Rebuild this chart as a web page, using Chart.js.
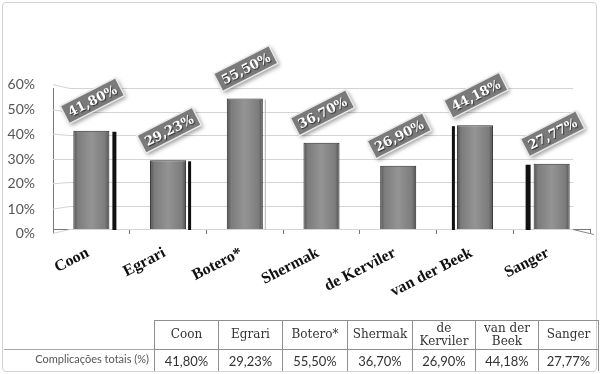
<!DOCTYPE html>
<html><head><meta charset="utf-8">
<script src="https://cdn.jsdelivr.net/npm/chart.js@4"></script>
<style>
html,body{margin:0;padding:0;background:#fff;}
#wrap{position:relative;width:600px;height:374px;overflow:hidden;background:#fff;}
#frame{position:absolute;left:2px;top:2px;width:595px;height:370px;border:1px solid #d2d2d2;border-radius:4px;box-sizing:border-box;}
#c{position:absolute;left:0;top:0;}
#tbl{position:absolute;left:154px;top:320px;border-collapse:collapse;table-layout:fixed;}
#tbl td{border:1px solid #8f8f8f;text-align:center;padding:0 1px;color:#333;overflow:hidden;}
#tbl tr.h td{height:28px;font:12px/1.1 "DejaVu Serif";}
#tbl tr.v td{height:21px;font:13px Lato;border-bottom:none;}
#rowline{position:absolute;left:4px;top:349px;width:150px;border-top:1px solid #a8a8a8;}
#rowhead{position:absolute;left:0;top:352px;width:149px;text-align:right;font:11px Lato;color:#555;}
</style></head>
<body><div id="wrap">
<div id="frame"></div>
<canvas id="c" width="600" height="374"></canvas>
<div id="rowline"></div>
<div id="rowhead"></div>
<table id="tbl"><colgroup></colgroup><tbody><tr class="h"></tr><tr class="v"></tr></tbody></table>
</div>
<script>
const categories = ['Coon','Egrari','Botero*','Shermak','de Kerviler','van der Beek','Sanger'];
const values = [41.80, 29.23, 55.50, 36.70, 26.90, 44.18, 27.77];
const rowTitle = 'Complicações totais (%)';
const yTicks = [0,10,20,30,40,50,60];

function fmt(v){ return v.toFixed(2).replace('.', ',') + '%'; }

// table
const colW = [64,64,65,65,63,63,60];
const cg = document.querySelector('#tbl colgroup');
colW.forEach(w => { const c = document.createElement('col'); c.style.width = w + 'px'; cg.appendChild(c); });
const hr = document.querySelector('#tbl tr.h'), vr = document.querySelector('#tbl tr.v');
categories.forEach((c,i) => {
  const td = document.createElement('td'); td.textContent = c; hr.appendChild(td);
  const tv = document.createElement('td'); tv.textContent = fmt(values[i]); vr.appendChild(tv);
});
document.getElementById('rowhead').textContent = rowTitle;

const deg = Math.PI/180;

const gridPlugin = {
  id: 'grid3d',
  beforeDatasetsDraw(chart){
    const ctx = chart.ctx, a = chart.chartArea, y = chart.scales.y;
    ctx.save();
    ctx.strokeStyle = '#d4d4d4'; ctx.lineWidth = 1;
    ctx.font = '14px Lato'; ctx.fillStyle = '#555'; ctx.textAlign = 'right'; ctx.textBaseline = 'middle';
    yTicks.forEach(v => {
      const py = Math.round(y.getPixelForValue(v)) + 0.5;
      const fy = py + (30 - v) * 0.13;
      ctx.beginPath();
      ctx.moveTo(a.left, fy);
      ctx.lineTo(a.left + 17, py);
      ctx.lineTo(a.right - 17, py);
      ctx.stroke();
      ctx.fillText(v + '%', a.left - 18, fy);
    });
    const p0 = Math.round(y.getPixelForValue(0)) + 0.5;
    ctx.beginPath(); ctx.moveTo(a.right - 17, p0); ctx.lineTo(a.right + 4, p0 + 5); ctx.strokeStyle = '#888'; ctx.stroke();
    // side faces
    const meta = chart.getDatasetMeta(0);
    meta.data.forEach((b, i) => {
      const half = b.width / 2, bottom = b.base;
      ctx.fillStyle = '#111';
      if (i === 0) ctx.fillRect(b.x + half + 3, b.y + 1, 4, bottom - b.y);
      if (i === 1) ctx.fillRect(b.x + half + 2, b.y + 1, 3, bottom - b.y);
      if (i === 5) ctx.fillRect(b.x - half - 5, b.y + 1, 3, bottom - b.y);
      if (i === 6) ctx.fillRect(b.x - half - 8, b.y + 1, 5, bottom - b.y);
      if (i === 2) { ctx.fillStyle = '#b5b5b5'; ctx.fillRect(b.x + half + 2, b.y + 1, 1, bottom - b.y); }
    });
    ctx.restore();
  }
};

const labelPlugin = {
  id: 'vlabels',
  afterDatasetsDraw(chart){
    const ctx = chart.ctx, meta = chart.getDatasetMeta(0), a = chart.chartArea;
    meta.data.forEach((b, i) => {
      ctx.save();
      ctx.translate(b.x + 1, b.y - 30);
      ctx.rotate(-27 * deg);
      ctx.shadowColor = 'rgba(0,0,0,0.4)'; ctx.shadowBlur = 4; ctx.shadowOffsetX = 2; ctx.shadowOffsetY = 2;
      ctx.fillStyle = '#7a7a7a';
      ctx.fillRect(-31, -10, 62, 20);
      ctx.shadowColor = 'transparent';
      ctx.strokeStyle = '#e8e8e8'; ctx.lineWidth = 1.5;
      ctx.strokeRect(-31, -10, 62, 20);
      ctx.font = 'bold 13px "DejaVu Serif"';
      ctx.textAlign = 'center'; ctx.textBaseline = 'middle';
      ctx.shadowColor = 'rgba(0,0,0,0.6)'; ctx.shadowBlur = 1; ctx.shadowOffsetX = 1; ctx.shadowOffsetY = 1;
      ctx.fillStyle = '#ffffff';
      ctx.fillText(fmt(values[i]), 0, 1);
      ctx.restore();
    });
    // category labels
    const xs = chart.scales.x;
    categories.forEach((c, i) => {
      ctx.save();
      ctx.translate(xs.getPixelForValue(i) - 7, a.bottom + 16);
      ctx.rotate(-27 * deg);
      ctx.font = 'bold 16px "Liberation Serif"';
      ctx.fillStyle = '#111';
      ctx.textAlign = 'right'; ctx.textBaseline = 'top';
      ctx.fillText(c, 0, 0);
      ctx.restore();
    });
  }
};

new Chart(document.getElementById('c'), {
  type: 'bar',
  data: {
    labels: categories,
    datasets: [{
      data: values,
      backgroundColor(c){
        const chart = c.chart, xs = chart.scales && chart.scales.x;
        if (!xs || !chart.chartArea) return '#8a8a8a';
        const cx = xs.getPixelForValue(c.dataIndex), hw = xs.width / categories.length * 0.47 / 2;
        if (!isFinite(cx)) return '#8a8a8a';
        const g = chart.ctx.createLinearGradient(cx - hw, 0, cx + hw, 0);
        g.addColorStop(0, '#505050');
        g.addColorStop(0.12, '#7c7c7c');
        g.addColorStop(0.5, '#949494');
        g.addColorStop(0.88, '#7c7c7c');
        g.addColorStop(1, '#505050');
        return g;
      },
      borderColor: '#2a2a2a',
      borderWidth: 1,
      categoryPercentage: 1,
      barPercentage: 0.47
    }]
  },
  options: {
    responsive: false,
    animation: false,
    events: [],
    layout: { padding: { top: 88, right: 10, left: 0, bottom: 0 } },
    plugins: { legend: { display: false }, tooltip: { enabled: false } },
    scales: {
      x: {
        afterFit(s){ s.height = 145; },
        ticks: { display: false },
        grid: { display: true, drawOnChartArea: false, drawTicks: true, tickLength: 5, color: '#777' },
        border: { display: true, color: '#777' }
      },
      y: {
        min: 0, max: 60,
        afterFit(s){ s.width = 53; },
        afterBuildTicks(s){ s.ticks = yTicks.map(v => ({ value: v })); },
        ticks: { display: false },
        grid: { display: false },
        border: { display: true, color: '#777' }
      }
    }
  },
  plugins: [gridPlugin, labelPlugin]
});
</script>
</body></html>
